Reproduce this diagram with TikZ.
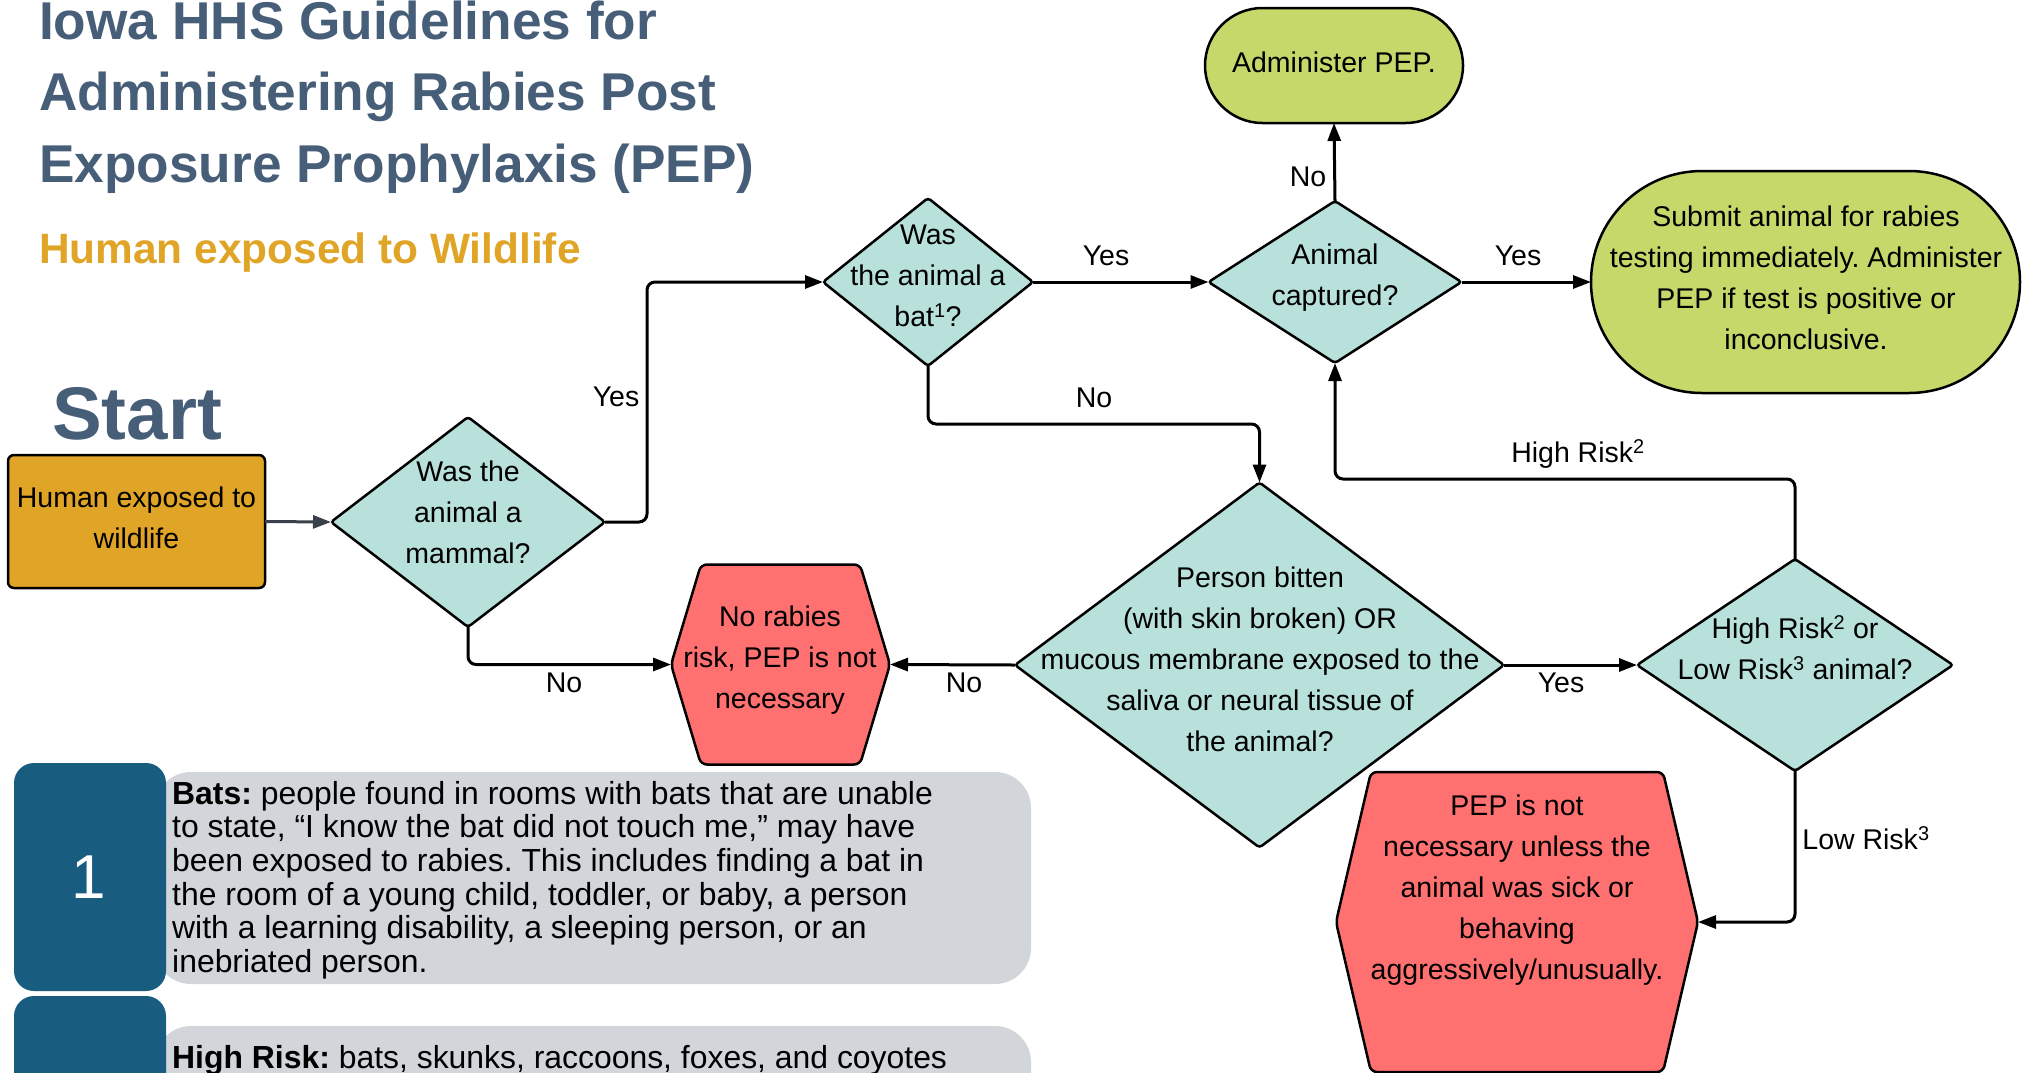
\documentclass[tikz,border=0pt]{standalone}
\usepackage{fontspec}
\setmainfont{Liberation Sans}
\frenchspacing
\usetikzlibrary{shapes.geometric,shapes.misc,arrows.meta}
\definecolor{titleblue}{HTML}{475E78}
\definecolor{orangeT}{HTML}{E0A526}
\definecolor{qteal}{HTML}{B7E1DA}
\definecolor{ggreen}{HTML}{C6D86A}
\definecolor{rred}{HTML}{FF7070}
\definecolor{tabblue}{HTML}{185D80}
\definecolor{boxgray}{HTML}{D2D6DB}
\definecolor{startarrow}{HTML}{3A414A}
\begin{document}
\begin{tikzpicture}[x=1pt,y=-1pt,
  flowtext/.style={font=\fontsize{28.5}{41}\selectfont, align=center, inner sep=0pt},
  lbl/.style={font=\fontsize{28.5}{34}\selectfont, inner sep=0pt},
  decision/.style={diamond, draw=black, line width=2.5pt, fill=qteal, inner sep=0pt, outer sep=0pt, rounded corners=3pt},
  terminal/.style={rounded rectangle, draw=black, line width=2.5pt, fill=ggreen, inner sep=0pt, outer sep=0pt},
  hexbox/.style={inner sep=0pt, outer sep=0pt},
  hexdraw/.style={draw=black, line width=2.5pt, fill=rred, rounded corners=6pt},
  arr/.style={line width=3pt, -{Triangle[length=18pt,width=13pt]}, rounded corners=8pt},
  titlefont/.style={font=\fontsize{53.2}{71}\selectfont\bfseries, text=titleblue, inner sep=0pt, anchor=base west},
  notefont/.style={font=\fontsize{31.9}{33.6}\selectfont, align=left, inner sep=0pt, anchor=north west}
]
\useasboundingbox (0,0) rectangle (2028,1072);
\clip (0,0) rectangle (2028,1072);
\fill[white] (0,0) rectangle (2028,1072);

% titles
\node[titlefont] (t1) at (39,39) {Iowa HHS Guidelines for};
\node[titlefont] (t2) at (39,110) {Administering Rabies Post};
\node[titlefont] (t3) at (39,182) {Exposure Prophylaxis (PEP)};
\node[font=\fontsize{42.4}{50}\selectfont\bfseries, text=orangeT, inner sep=0pt, anchor=base west] (sub) at (39,263) {Human exposed to Wildlife};
\node[font=\fontsize{74.5}{80}\selectfont\bfseries, text=titleblue, inner sep=0pt, anchor=base west] (startlbl) at (52,439) {Start};

% shapes
\node[draw=black, line width=2.5pt, fill=orangeT, rounded corners=6pt, minimum width=257pt, minimum height=133pt, inner sep=0pt, outer sep=0pt] (start) at (136.5,521.5) {};
\node[flowtext] (startT) at (136.5,517.5) {Human exposed to\\wildlife};

\node[decision, minimum width=274pt, minimum height=210pt] (mammal) at (468,522) {};
\node[flowtext] (mammalT) at (468,512.5) {Was the\\animal a\\mammal?};

\node[decision, minimum width=210pt, minimum height=168pt] (bat) at (928,282) {};
\node[flowtext] (batT) at (928,276) {Was\\the animal a\\bat\textsuperscript{1}?};

\node[decision, minimum width=253pt, minimum height=162pt] (captured) at (1335,282) {};
\node[flowtext] (capturedT) at (1335,278) {Animal\\captured?};

\node[terminal, minimum width=258pt, minimum height=115pt] (admin) at (1334,65.5) {};
\node[flowtext] (adminT) at (1334,62) {Administer PEP.};

\node[terminal, minimum width=429pt, minimum height=222pt] (submit) at (1805.5,282) {};
\node[flowtext] (submitT) at (1806,278) {Submit animal for rabies\\testing immediately. Administer\\PEP if test is positive or\\inconclusive.};

\node[decision, minimum width=489pt, minimum height=365pt] (person) at (1259.5,665) {};
\node[flowtext] (personT) at (1260,659) {Person bitten\\(with skin broken) OR\\mucous membrane exposed to the\\saliva or neural tissue of\\the animal?};

\node[decision, minimum width=316pt, minimum height=212pt] (risk) at (1795,665) {};
\node[flowtext] (riskT) at (1795,648) {High Risk\textsuperscript{2} or\\Low Risk\textsuperscript{3} animal?};

\node[hexbox, minimum width=219pt, minimum height=200pt] (norisk) at (780.5,664.5) {};
\draw[hexdraw] ([xshift=30pt]norisk.north west) -- ([xshift=-30pt]norisk.north east) -- (norisk.east) -- ([xshift=-30pt]norisk.south east) -- ([xshift=30pt]norisk.south west) -- (norisk.west) -- cycle;
\node[flowtext] (noriskT) at (780,660.5) {No rabies\\risk, PEP is not\\necessary};

\node[hexbox, minimum width=362pt, minimum height=300pt] (pepnot) at (1517,922) {};
\draw[hexdraw] ([xshift=35pt]pepnot.north west) -- ([xshift=-35pt]pepnot.north east) -- (pepnot.east) -- ([xshift=-35pt]pepnot.south east) -- ([xshift=35pt]pepnot.south west) -- (pepnot.west) -- cycle;
\node[flowtext] (pepnotT) at (1517,890.5) {PEP is not\\necessary unless the\\animal was sick or\\behaving\\aggressively/unusually.};

% connectors
\draw[arr, draw=startarrow, color=startarrow] (start.east) -- (mammal.west);
\draw[arr] (mammal.east) -- ++(42,0) |- (bat.west);
\draw[arr] (bat.east) -- (captured.west);
\draw[arr] (captured.north) -- (admin.south);
\draw[arr] (captured.east) -- (submit.west);
\draw[arr] (bat.south) -- ++(0,58) -| (person.north);
\draw[arr] (mammal.south) |- (norisk.west);
\draw[arr] (person.west) -- (norisk.east);
\draw[arr] (person.east) -- (risk.west);
\draw[arr] (risk.north) -- ++(0,-80) -| (captured.south);
\draw[arr] (risk.south) |- (pepnot.east);

% connector labels
\node[lbl] (l1) at (616,397) {Yes};
\node[lbl] (l2) at (1106,256) {Yes};
\node[lbl] (l3) at (1308,177) {No};
\node[lbl] (l4) at (1518,256) {Yes};
\node[lbl] (l5) at (1094,398) {No};
\node[lbl] (l6) at (1578,454) {High Risk\textsuperscript{2}};
\node[lbl] (l7) at (564,683) {No};
\node[lbl] (l8) at (964,683) {No};
\node[lbl] (l9) at (1561,683) {Yes};
\node[lbl] (l10) at (1866,838) {Low Risk\textsuperscript{3}};

% footnotes
\fill[boxgray, rounded corners=36pt] (155,772) rectangle (1031,984);
\fill[tabblue, rounded corners=20pt] (14,763) rectangle (166,991);
\node[font=\fontsize{62}{70}\selectfont, text=white, inner sep=0pt] (n1) at (89,877) {1};
\node[notefont] (note1) at (172,781) {\textbf{Bats:} people found in rooms with bats that are unable\\to state, “I know the bat did not touch me,” may have\\been exposed to rabies. This includes finding a bat in\\the room of a young child, toddler, or baby, a person\\with a learning disability, a sleeping person, or an\\inebriated person.};

\fill[boxgray, rounded corners=36pt] (155,1026) rectangle (1031,1160);
\fill[tabblue, rounded corners=20pt] (14,996) rectangle (166,1200);
\node[font=\fontsize{31.9}{33.6}\selectfont, inner sep=0pt, anchor=base west] (note2) at (172,1068) {\textbf{High Risk:} bats, skunks, raccoons, foxes, and coyotes};
\end{tikzpicture}
\end{document}
